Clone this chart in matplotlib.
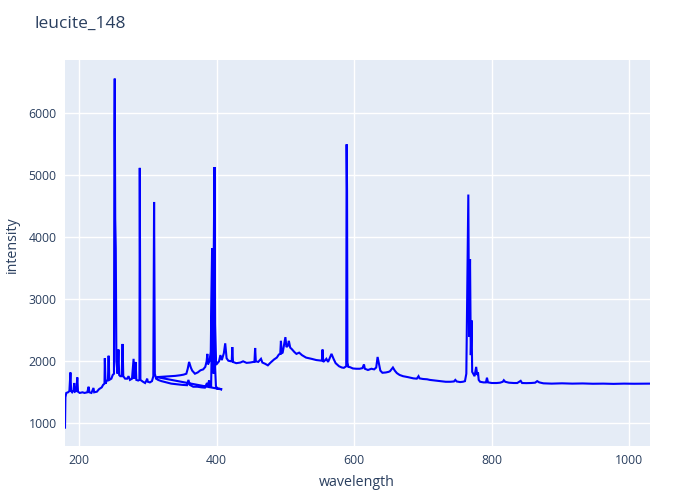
"""leucite_148 spectrum - plotly-like look in matplotlib"""

import matplotlib
matplotlib.use("Agg")
import matplotlib.pyplot as plt
import numpy as np

TEXT_COLOR = "#2a3f5f"
BG_COLOR = "#E5ECF6"
plt.rcParams["font.family"] = ["Open Sans", "DejaVu Sans"]

title = "leucite_148"
x_label = "wavelength"
y_label = "intensity"

# UV spectrometer (ends low at ~408 nm)
seg1_wl = [
    179.6, 180.2, 181.5, 184, 186, 187.5, 188.5, 190, 192, 193, 194, 196, 197.5, 198.5,
    201, 205, 208, 212, 214, 215, 218, 221, 222, 226, 229, 233, 235, 237, 237.5, 238.5,
    240, 242, 243, 244, 247, 249, 250.8, 251.4, 251.9, 252.6, 253.4, 254.3, 256, 257.3,
    258.3, 260, 262, 263.3, 264.3, 267, 270, 272, 274, 277, 279.3, 280.3, 282.3, 283.3,
    286, 287.8, 288.3, 289.2, 293, 296, 298, 299, 300, 303, 306, 308, 309.1, 310.2, 312,
    315, 320, 327, 334, 342, 350, 357, 359, 361, 366, 372, 378, 383, 386, 387, 389, 390,
    392, 393, 393.4, 394.8, 395.8, 396.8, 397.8, 399, 401, 404, 408,
]
seg1_int = [
    930, 1420, 1490, 1500, 1520, 1820, 1520, 1500, 1530, 1650, 1510, 1520, 1740, 1510,
    1490, 1500, 1490, 1500, 1590, 1500, 1490, 1570, 1500, 1510, 1550, 1580, 1620, 1640, 2050, 1640,
    1680, 1700, 2090, 1700, 1720, 1780, 1800, 5680, 6560, 4300, 3820, 2000, 1800, 2190,
    1780, 1760, 1760, 2280, 1760, 1720, 1720, 1760, 1700, 1720, 2040, 1720, 1990, 1700,
    1690, 1700, 5120, 1700, 1670, 1650, 1690, 1720, 1670, 1660, 1680, 1760, 4570, 1800, 1720,
    1700, 1680, 1660, 1640, 1630, 1620, 1615, 1700, 1620, 1590, 1590, 1580, 1575, 1650, 1590, 1690, 1590,
    1600, 2300, 3820, 2000, 1800, 5130, 1900, 1600, 1560, 1560, 1545,
]

# visible / NIR spectrometer
seg2_wl = [
    313, 320, 327, 333, 340, 347, 352, 356, 358, 360, 362.5, 364.5, 368.5, 372.5, 376.5,
    380.5, 383.5, 385.5, 386.5, 387.5, 389.5, 391.5, 393.4, 394.8, 396.8, 397.8, 399,
    400.5, 403.5, 405.5, 407.5, 410.5, 412.5, 414.5, 417, 421, 422, 422.8, 423.8, 428.5,
    434.5, 438.5, 443.5, 448.5, 453.5, 455, 456, 457, 460.5, 464.5, 466.5, 470.5, 474.5,
    478.5, 483.5, 487.5, 490.5, 492.5, 493.5, 494.5, 496, 497, 500, 501.5, 503.5, 505,
    507, 509, 513, 516, 520, 524, 530, 538, 545, 552, 553, 554, 555, 558, 559.5, 562,
    564, 567, 570, 573, 578, 582, 585, 588.4, 589.0, 589.6, 590.2, 591.5, 594, 598, 603,
    608, 612, 614.2, 615.5, 620, 625, 629, 632, 634, 636, 638, 641, 646, 650, 652, 656.3,
    659, 662, 666, 671, 678, 686, 691, 693.5, 695, 700, 706, 710, 718, 725, 733, 740,
    745, 747, 749, 754, 758, 761, 763, 765.9, 767, 768.4, 769.5, 770.6, 771.5, 773, 775,
    777.3, 778.8, 780, 781, 783, 788, 791.5, 793, 794.5, 800, 807, 812, 816, 817.5,
    819.5, 825, 832, 837, 842, 844, 850, 857, 863, 866, 869, 875, 887, 902, 917, 932,
    947, 962, 977, 992, 1007, 1022, 1030,
]
seg2_int = [
    1745, 1750, 1755, 1758, 1765, 1775, 1785, 1800, 1880, 1990, 1900, 1850, 1800, 1820, 1855,
    1870, 1910, 2000, 2120, 1950, 2000, 2150, 3820, 2200, 5130, 2600, 2000,
    1960, 2000, 2100, 2020, 2130, 2290, 2050, 2010, 2000, 2000, 2230, 1990, 1970,
    1980, 2000, 1975, 1980, 1990, 1990, 2215, 2000, 1990, 2040, 1980, 1960, 1935,
    1980, 2030, 2060, 2110, 2120, 2330, 2130, 2140, 2200, 2390, 2230, 2250, 2330,
    2220, 2200, 2150, 2120, 2140, 2100, 2060, 2040, 2020, 2010, 2010, 2190, 1990, 2020, 2040, 1990,
    2040, 2120, 2040, 1970, 1920, 1900, 1895, 1920, 5500, 4760, 1980, 1910, 1905, 1885, 1880,
    1880, 1890, 1950, 1880, 1860, 1880, 1870, 1900, 2070, 1960, 1850, 1815, 1820, 1830, 1840, 1900,
    1850, 1810, 1780, 1760, 1745, 1725, 1720, 1760, 1725, 1715, 1710, 1700, 1690, 1680, 1670, 1670,
    1675, 1700, 1675, 1665, 1670, 1680, 1800, 4690, 2400, 3650, 2100, 2660, 1830, 1800, 1760,
    1910, 1780, 1820, 1700, 1670, 1660, 1660, 1735, 1660, 1650, 1650, 1655, 1670, 1695,
    1670, 1655, 1650, 1650, 1685, 1650, 1648, 1650, 1655, 1680, 1660, 1645, 1640, 1645, 1640, 1643,
    1638, 1640, 1636, 1640, 1638, 1640, 1640,
]

# one trace, segments joined in file order (as plotly draws it)
wl = np.array(seg1_wl + seg2_wl)
inten = np.array(seg1_int + seg2_int)

fig = plt.figure(figsize=(7, 5), dpi=100)
ax = fig.add_axes([65 / 700, 54 / 500, 585 / 700, 386 / 500])
ax.set_facecolor(BG_COLOR)

ax.plot(wl, inten, color="#0000ff", linewidth=1.5, solid_joinstyle="miter")

ax.set_xlim(179.6, 1030)
ax.set_ylim(634, 6860)
ax.set_xticks([200, 400, 600, 800, 1000])
ax.set_yticks([1000, 2000, 3000, 4000, 5000, 6000])
ax.grid(True, color="white", linewidth=1.0)
ax.set_axisbelow(True)
for s in ax.spines.values():
    s.set_visible(False)
ax.tick_params(length=0, labelsize=8.8, colors=TEXT_COLOR, pad=6)

# axis titles placed like plotly does
fig.text(357 / 700, 1 - 483 / 500, x_label, fontsize=10.3, color=TEXT_COLOR,
         ha="center", va="center")
fig.text(12 / 700, 1 - 245 / 500, y_label, fontsize=10.3, color=TEXT_COLOR,
         ha="center", va="center", rotation=90)

fig.text(35 / 700, 1 - 24 / 500, title, fontsize=12.5, color=TEXT_COLOR, va="center", ha="left")

fig.savefig("out.png", dpi=100)
